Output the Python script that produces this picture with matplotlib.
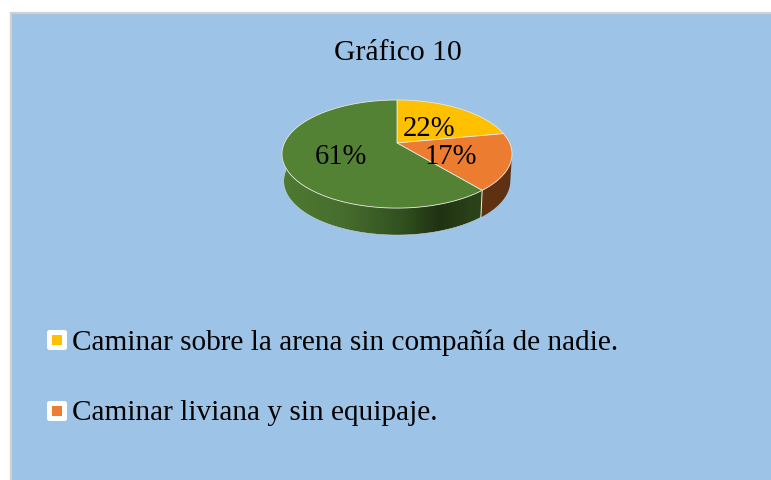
import numpy as np
import matplotlib.pyplot as plt
from matplotlib.colors import LinearSegmentedColormap
from matplotlib.patches import Rectangle, FancyBboxPatch, Polygon

plt.rcParams['font.family'] = ['Liberation Serif', 'DejaVu Serif']

title = "Gráfico 10"
values = [22, 17, 61]
pct_labels = ["22%", "17%", "61%"]
colors = ["#FFC000", "#EC7C30", "#548235"]
legend_labels = ["Caminar sobre la arena sin compañía de nadie.",
                 "Caminar liviana y sin equipaje."]
legend_colors = ["#FFC000", "#ED7D31"]

BG = "#9DC3E6"
#pie geometry in image pixels, with a perspective tilt
CX, CY = 397, 143
A, B, K = 112.6, 51.8, 0.204
DEPTH = 27

#Map a pie angle (degrees clockwise from the top) to the picture
def rim(theta, shift=0, scale=1.0):
    t = np.radians(theta)
    u, v = np.sin(t), np.cos(t)
    d = 1 + K * v
    return CX + scale * A * u / d, CY - B * v / d + shift

def side_poly(a0, a1):
    th = np.linspace(a0, a1, 120)
    x0, y0 = rim(th)
    x1, y1 = rim(th, DEPTH, 0.985)
    return np.column_stack([np.r_[x0, x1[::-1]], np.r_[y0, y1[::-1]]])

fig = plt.figure(figsize=(7.71, 4.8), dpi=100, facecolor="white")
ax = fig.add_axes([0, 0, 1, 1])
ax.set_xlim(0, 771)
ax.set_ylim(480, 0)
ax.axis("off")

#Chart area runs off the right and bottom edges
ax.add_patch(Rectangle((11, 12.5), 800, 500, facecolor=BG, edgecolor="#D0D0D0", lw=1.6))

ax.text(397.5, 53.5, title, ha="center", va="center", fontsize=21.3, color="black")

edges = np.r_[0, np.cumsum(values)] / sum(values) * 360

#Side wall of the orange slice
ax.add_patch(Polygon(side_poly(102, edges[2]), closed=True, facecolor="#5F3113", edgecolor="none", zorder=2))

#Side wall of the green slice, with a shaded gradient
green_cmap = LinearSegmentedColormap.from_list("side", [(0, "#4F7A32"), (0.3, "#476D2D"), (0.6, "#30501F"), (0.78, "#203212"), (0.92, "#293F18"), (1, "#2C4519")])
green_side = Polygon(side_poly(edges[2], 270), closed=True, facecolor="none", edgecolor="none", zorder=3)
ax.add_patch(green_side)
img = ax.imshow(np.linspace(0, 1, 256)[None, :], cmap=green_cmap, extent=(282, 484, 240, 150), aspect="auto", zorder=3)
img.set_clip_path(green_side)
ax.set_xlim(0, 771)
ax.set_ylim(480, 0)

#White divider on the side wall
xa, ya = rim(edges[2])
xb, yb = rim(edges[2], DEPTH, 0.985)
ax.plot([xa, xb], [ya, yb], color="#E8EEF0", lw=0.7, zorder=4)

#Top faces
for i, col in enumerate(colors):
    th = np.linspace(edges[i], edges[i + 1], 200)
    x, y = rim(th)
    pts = np.column_stack([np.r_[CX, x], np.r_[CY, y]])
    ax.add_patch(Polygon(pts, closed=True, facecolor=col, edgecolor="#E4E9E2", lw=0.6, zorder=5))

#Faint light rim around the bottom of the side wall
th = np.linspace(edges[2], 270, 150)
x, y = rim(th, DEPTH, 0.985)
ax.plot(x, y, color="#C9D6D6", lw=0.4, zorder=4)

label_pos = [(429, 129.5), (451, 157.5), (341, 157.5)]
for (lx, ly), s in zip(label_pos, pct_labels):
    ax.text(lx, ly, s, ha="center", va="center", fontsize=20.6, color="black", zorder=6)

#Legend
for ly, s, col in zip([340, 411], legend_labels, legend_colors):
    ax.add_patch(FancyBboxPatch((47, ly - 10), 20, 20, boxstyle="round,pad=0,rounding_size=2.5", mutation_aspect=1,
                                facecolor="white", edgecolor="none", zorder=5))
    ax.add_patch(Rectangle((52, ly - 5), 10, 10, facecolor=col, edgecolor="none", zorder=6))
    ax.text(72, ly + 2.5, s, ha="left", va="center", fontsize=21.05, color="black", zorder=6)

fig.savefig("out.png", dpi=100)
